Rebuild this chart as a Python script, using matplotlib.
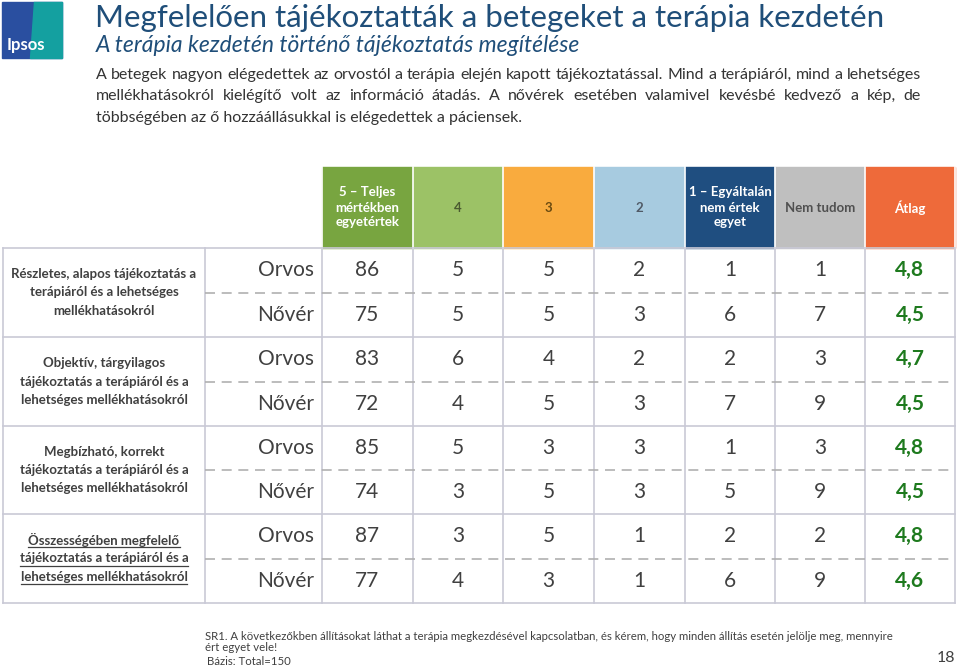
import matplotlib
matplotlib.use("Agg")
import matplotlib.pyplot as plt
from matplotlib.patches import Rectangle, Polygon

plt.rcParams['font.family'] = ['Lato', 'DejaVu Sans']

title = "Megfelelően tájékoztatták a betegeket a terápia kezdetén"
subtitle = "A terápia kezdetén történő tájékoztatás megítélése"
body_lines = [
    "A betegek nagyon elégedettek az orvostól a terápia elején kapott tájékoztatással. Mind a terápiáról, mind a lehetséges",
    "mellékhatásokról kielégítő volt az információ átadás. A nővérek esetében valamivel kevésbé kedvező a kép, de",
    "többségében az ő hozzáállásukkal is elégedettek a páciensek.",
]

col_headers = ["5 – Teljes\nmértékben\negyetértek", "4", "3", "2",
               "1 – Egyáltalán\nnem értek\negyet", "Nem tudom", "Átlag"]
header_colors = ["#78a540", "#9cc266", "#f9ab3e", "#a7cbe0", "#1f4e80", "#bfbfbf", "#ee6a3a"]
header_text_colors = ["white", "#4a5a30", "#6a4a10", "#505a66", "white", "#505050", "white"]

groups = [
    "Részletes, alapos tájékoztatás a\nterápiáról és a lehetséges\nmellékhatásokról",
    "Objektív, tárgyilagos\ntájékoztatás a terápiáról és a\nlehetséges mellékhatásokról",
    "Megbízható, korrekt\ntájékoztatás a terápiáról és a\nlehetséges mellékhatásokról",
    "Összességében megfelelő\ntájékoztatás a terápiáról és a\nlehetséges mellékhatásokról",
]
underlined = [False, False, False, True]
roles = ["Orvos", "Nővér"]

orvos_values = [[86, 5, 5, 2, 1, 1], [83, 6, 4, 2, 2, 3], [85, 5, 3, 3, 1, 3], [87, 3, 5, 1, 2, 2]]
novér_values = [[75, 5, 5, 3, 6, 7], [72, 4, 5, 3, 7, 9], [74, 3, 5, 3, 5, 9], [77, 4, 3, 1, 6, 9]]
orvos_avg = ["4,8", "4,7", "4,8", "4,8"]
novér_avg = ["4,5", "4,5", "4,5", "4,6"]

footnote = ("SR1. A következőkben állításokat láthat a terápia megkezdésével kapcsolatban, "
            "és kérem, hogy minden állítás esetén jelölje meg, mennyire\nért egyet vele!")
base_note = "Bázis: Total=150"
page_no = "18"

W, H = 959, 670
fig = plt.figure(figsize=(W / 100, H / 100), dpi=100)
ax = fig.add_axes([0, 0, 1, 1])
ax.set_xlim(0, W)
ax.set_ylim(H, 0)
ax.axis("off")

# logo
ax.add_patch(Rectangle((2, 2), 60, 56, color="#2a4fa0"))
ax.add_patch(Polygon([(34, 2), (62, 2), (62, 58), (30, 58)], color="#14a0a0"))
ax.text(7, 45, "Ipsos", color="white", fontsize=12, fontweight="bold", va="center", ha="left")

title_color = "#1f4e79"
ax.text(95, 18, title, fontsize=22.5, color=title_color, va="center", ha="left")
ax.text(96, 46, subtitle, fontsize=16.5, color=title_color, style="italic", va="center", ha="left")

# body text, justified for the first two lines
fig.canvas.draw()
renderer = fig.canvas.get_renderer()
body_x0, body_x1 = 96, 921
body_y = [75, 96, 118]
for i, line in enumerate(body_lines):
    if i == len(body_lines) - 1:
        ax.text(body_x0, body_y[i], line, fontsize=11.5, color="#333333", va="center", ha="left")
        continue
    words = line.split(" ")
    arts = [ax.text(0, body_y[i], w, fontsize=11.5, color="#333333", va="center", ha="left") for w in words]
    widths = [a.get_window_extent(renderer).width for a in arts]
    gap = (body_x1 - body_x0 - sum(widths)) / (len(words) - 1)
    x = body_x0
    for a, w in zip(arts, widths):
        a.set_x(x)
        x += w + gap

# table geometry
col_x = [3, 205, 322, 413, 503, 594, 685, 775, 865, 955]
head_top, head_bot = 167, 248
row_y = [248, 337, 426, 514, 603]
grid_c = "#c9c9d6"

for j, (lab, fc, tc) in enumerate(zip(col_headers, header_colors, header_text_colors)):
    x0, x1 = col_x[j + 2], col_x[j + 3]
    ax.add_patch(Rectangle((x0, head_top), x1 - x0, head_bot - head_top, color=fc))
    ax.text((x0 + x1) / 2, (head_top + head_bot) / 2, lab, color=tc, fontsize=9.5,
            fontweight="bold", ha="center", va="center", linespacing=1.3)

# grid
for x in col_x:
    ax.plot([x, x], [row_y[0], row_y[-1]], color=grid_c, lw=1.2)
for x in col_x[2:]:
    ax.plot([x, x], [head_top, head_bot], color="white", lw=1.2)
for y in row_y:
    ax.plot([col_x[0], col_x[-1]], [y, y], color=grid_c, lw=1.2)

num_c = "#404040"
avg_c = "#1e7a1e"
line_h = 18.5
for g, label in enumerate(groups):
    y0, y1 = row_y[g], row_y[g + 1]
    ym = (y0 + y1) / 2
    ax.plot([col_x[1], col_x[-1]], [ym, ym], color="#b0b0b0", lw=1.2, ls=(0, (6, 4)))
    parts = label.split("\n")
    cx = (col_x[0] + col_x[1]) / 2
    for li, part in enumerate(parts):
        ty = ym + (li - (len(parts) - 1) / 2) * line_h
        t = ax.text(cx, ty, part, fontsize=9.5, fontweight="bold",
                    color="#404040", ha="center", va="center")
        if underlined[g]:
            bb = t.get_window_extent(renderer)
            (ux0, _), (ux1, _) = ax.transData.inverted().transform([(bb.x0, 0), (bb.x1, 0)])
            ax.plot([ux0, ux1], [ty + 7, ty + 7], color="#404040", lw=0.9)
    sub_y = [(y0 + ym) / 2, (ym + y1) / 2]
    for r, (role, vals, avg) in enumerate([(roles[0], orvos_values[g], orvos_avg[g]),
                                            (roles[1], novér_values[g], novér_avg[g])]):
        ax.text(col_x[2] - 8, sub_y[r], role, fontsize=15, color=num_c, ha="right", va="center")
        for k, v in enumerate(vals):
            ax.text((col_x[k + 2] + col_x[k + 3]) / 2, sub_y[r], str(v), fontsize=15,
                    color=num_c, ha="center", va="center")
        ax.text((col_x[8] + col_x[9]) / 2, sub_y[r], avg, fontsize=15, fontweight="bold",
                color=avg_c, ha="center", va="center")

ax.text(205, 631, footnote, fontsize=8.2, color="#404040", ha="left", va="top", linespacing=1.05)
ax.text(207, 656, base_note, fontsize=8.2, color="#404040", ha="left", va="top")
ax.text(955, 658, page_no, fontsize=11.5, color="#404040", ha="right", va="center")

fig.savefig("out.png", dpi=100)
